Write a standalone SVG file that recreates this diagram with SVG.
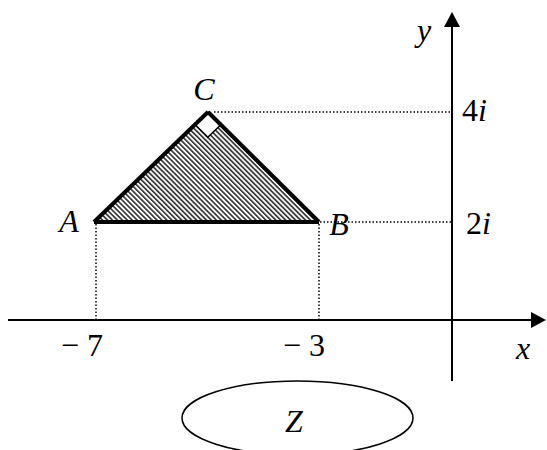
<svg xmlns="http://www.w3.org/2000/svg" width="547" height="450" viewBox="0 0 547 450">
<style>
.axis{stroke:#000;stroke-width:2;fill:none}
.dot{stroke:#000;stroke-width:1.5;stroke-dasharray:1.5 2;fill:none}
.edge{stroke:#000;stroke-width:4;fill:none;stroke-linejoin:miter}
</style>
<defs>
<pattern id="hatch" width="3.5" height="3.5" patternUnits="userSpaceOnUse" patternTransform="rotate(-45)">
<rect width="3.5" height="3.5" fill="#fff"/>
<line x1="0.8" y1="0" x2="0.8" y2="3.5" stroke="#333" stroke-width="1.7"/>
</pattern>
</defs>
<g id="connectors">
<line class="axis" x1="8" y1="320" x2="531" y2="320"/>
<path d="M531,312 L546,320 L531,328 Z" fill="#000"/>
<line class="axis" x1="452" y1="381" x2="452" y2="27"/>
<path d="M444,27 L452,12 L460,27 Z" fill="#000"/>
<line class="dot" x1="214" y1="112" x2="452" y2="112"/>
<line class="dot" x1="320" y1="222" x2="452" y2="222"/>
<line class="dot" x1="96" y1="224" x2="96" y2="320"/>
<line class="dot" x1="319" y1="224" x2="319" y2="320"/>
</g>
<g id="triangle">
<path d="M94,222 L208,112 L319,222 Z" fill="url(#hatch)"/>
<path d="M195,124.5 L207.8,137.2 L220.8,124.7 L208,112 Z" fill="#fff" stroke="#000" stroke-width="1.5"/>
<path d="M94,222 L208,112" class="edge"/>
<path d="M208,112 L319,222" class="edge" stroke-width="5"/>
<path d="M94,222 L319,222" class="edge"/>
</g>
<g id="labels" font-family="Liberation Serif, Times New Roman, serif" font-size="32" fill="#000">
<text font-style="italic" x="204" y="100" text-anchor="middle">C</text>
<text font-style="italic" x="69" y="232" text-anchor="middle">A</text>
<text font-style="italic" x="339" y="235" text-anchor="middle">B</text>
<text font-style="italic" x="424" y="41" text-anchor="middle">y</text>
<text font-style="italic" x="523" y="359" text-anchor="middle">x</text>
<text x="462" y="121">4<tspan font-style="italic">i</tspan></text>
<text x="466" y="234">2<tspan font-style="italic">i</tspan></text>
<text x="82" y="356" text-anchor="middle">− 7</text>
<text x="304" y="356" text-anchor="middle">− 3</text>
</g>
<g id="Z">
<ellipse cx="297.5" cy="418" rx="115.5" ry="37" fill="#fff" stroke="#000" stroke-width="1.5"/>
<text font-family="Liberation Serif, Times New Roman, serif" font-size="32" font-style="italic" x="294" y="432" text-anchor="middle">Z</text>
</g>
</svg>
